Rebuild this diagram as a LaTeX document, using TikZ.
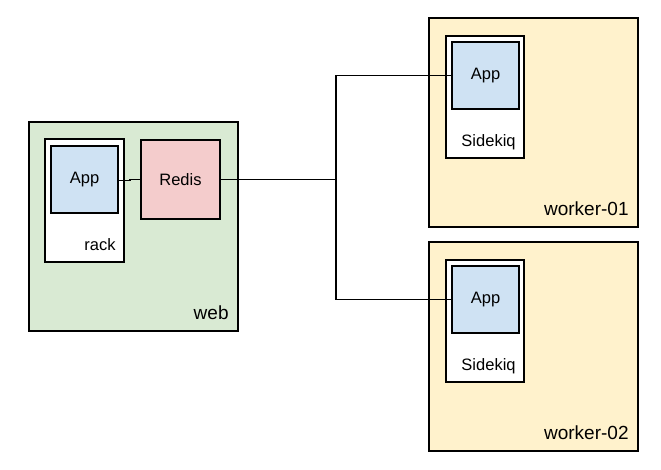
\documentclass[tikz,border=0pt]{standalone}
\usepackage{fontspec}
\setmainfont{Liberation Sans}
\definecolor{webgreen}{HTML}{D9EAD3}
\definecolor{redispink}{HTML}{F4CCCC}
\definecolor{appblue}{HTML}{CFE2F3}
\definecolor{workeryellow}{HTML}{FFF2CC}
\begin{document}
\begin{tikzpicture}[x=1pt,y=-1pt,
  box/.style={draw=black,line width=1.6pt,rectangle,inner sep=0pt,
    minimum width=#1},
  host/.style={box=209,minimum height=209,fill=#1},
  proc/.style={box=78,minimum height=122,fill=white},
  app/.style={box=67,minimum height=67,fill=appblue,font=\fontsize{16.5}{19}\selectfont},
  redisbox/.style={box=79,minimum height=79,fill=redispink,font=\fontsize{16.5}{19}\selectfont},
  hostlabel/.style={anchor=east,inner sep=0pt,font=\fontsize{19}{22}\selectfont},
  proclabel/.style={anchor=east,inner sep=0pt,font=\fontsize{16.5}{19}\selectfont},
  wire/.style={line width=1.6pt,black}]
\useasboundingbox (0,0) rectangle (661,470);
% web host
\node[host=webgreen] (web) at (133.5,226.5) {};
\node[hostlabel] (weblabel) at ([xshift=-10pt,yshift=19pt]web.south east) {web};
\node[proc,minimum width=79,minimum height=123] (rack) at (84.5,200.5) {};
\node[proclabel] (racklabel) at ([xshift=-9pt,yshift=18pt]rack.south east) {rack};
\node[app] (appw) at (84.5,179.5) {App};
\node[redisbox] (redis) at (180.5,179.5) {Redis};
% worker-01
\node[host=workeryellow] (w1) at (533.5,122.5) {};
\node[hostlabel] (w1label) at ([xshift=-10pt,yshift=19pt]w1.south east) {worker-01};
\node[proc] (sk1) at (485,97) {};
\node[proclabel] (sk1label) at ([xshift=-9pt,yshift=17pt]sk1.south east) {Sidekiq};
\node[app] (app1) at (485.5,75.5) {App};
% worker-02
\node[host=workeryellow] (w2) at (533.5,346.5) {};
\node[hostlabel] (w2label) at ([xshift=-10pt,yshift=19pt]w2.south east) {worker-02};
\node[proc] (sk2) at (485,321) {};
\node[proclabel] (sk2label) at ([xshift=-9pt,yshift=17pt]sk2.south east) {Sidekiq};
\node[app] (app2) at (485.5,299.5) {App};
% connectors
\coordinate (hub) at (336,179.5);
\draw[wire] ([yshift=-1pt]appw.east) -- ++(11,0) |- (redis.west);
\draw[wire] (redis.east) -- (hub);
\draw[wire] (hub) |- (app1.west);
\draw[wire] (hub) |- (app2.west);
\end{tikzpicture}
\end{document}
